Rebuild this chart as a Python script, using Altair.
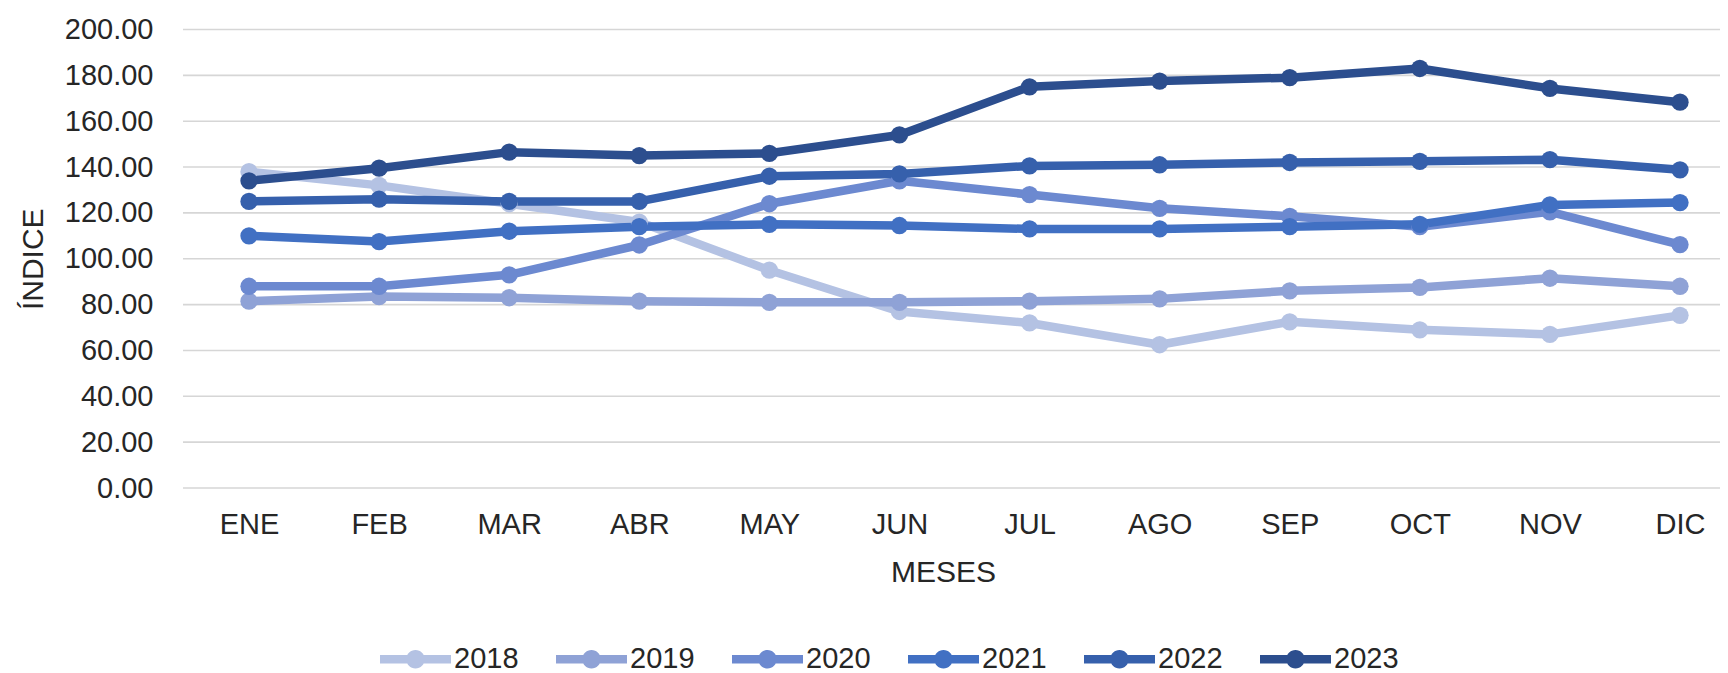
import altair as alt
import pandas as pd

months = ["ENE", "FEB", "MAR", "ABR", "MAY", "JUN", "JUL", "AGO", "SEP", "OCT", "NOV", "DIC"]
years = ["2018", "2019", "2020", "2021", "2022", "2023"]
y_ticks = [0, 20, 40, 60, 80, 100, 120, 140, 160, 180, 200]

v2018 = [138.0, 132.0, 124.0, 116.0, 95.0, 77.0, 72.0, 62.5, 72.5, 69.0, 67.0, 75.3]
v2019 = [81.5, 83.5, 83.0, 81.5, 81.0, 81.0, 81.5, 82.5, 86.0, 87.5, 91.5, 88.0]
v2020 = [88.0, 88.0, 93.0, 106.0, 124.0, 134.0, 128.0, 122.0, 118.5, 114.0, 120.5, 106.2]
v2021 = [110.0, 107.5, 112.0, 114.0, 115.0, 114.5, 113.0, 113.0, 114.0, 115.0, 123.5, 124.5]
v2022 = [125.0, 126.0, 125.0, 125.0, 136.0, 137.0, 140.5, 141.0, 142.0, 142.5, 143.2, 138.8]
v2023 = [134.0, 139.5, 146.5, 145.0, 146.0, 154.0, 175.0, 177.5, 179.0, 183.0, 174.3, 168.3]

series = [v2018, v2019, v2020, v2021, v2022, v2023]
colors = ["#B4C2E3", "#8FA2D6", "#6C89D0", "#4170C3", "#3660AC", "#2C4E8E"]

rows = []
for y, vals in zip(years, series):
    for m, v in zip(months, vals):
        rows.append({"mes": m, "anio": y, "indice": v})
df = pd.DataFrame(rows)
grid_df = pd.DataFrame({"indice": y_ticks})

font = "Liberation Sans"
txt = "#262626"
W = 1537

legend_path = ("M -1 -0.12 L 1 -0.12 L 1 0.12 L -1 0.12 Z "
               "M 0.26 0 A 0.26 0.26 0 1 1 -0.26 0 A 0.26 0.26 0 1 1 0.26 0 Z")

y_scale = alt.Scale(domain=[0, 200], nice=False, zero=True)

x_enc = alt.X("mes:N", sort=months, title="MESES",
              scale=alt.Scale(type="point", range=[66, 1497], padding=0),
              axis=alt.Axis(labelAngle=0, ticks=False, tickSize=0, domain=False, grid=False,
                            labelFontSize=29, labelFont=font, labelColor=txt, labelPadding=22,
                            titleFontSize=30, titleFont=font, titleColor=txt,
                            titleFontWeight="normal", titlePadding=18, titleX=760))
y_enc = alt.Y("indice:Q", title="ÍNDICE", scale=y_scale,
              axis=alt.Axis(values=y_ticks, format=".2f", ticks=False, tickSize=0,
                            domain=False, grid=False,
                            labelFontSize=29, labelFont=font, labelColor=txt, labelPadding=30,
                            titleFontSize=30, titleFont=font, titleColor=txt,
                            titleFontWeight="normal", titlePadding=16))
color_enc = alt.Color("anio:N", sort=years,
                      scale=alt.Scale(domain=years, range=colors),
                      legend=alt.Legend(title=None, orient="none", direction="horizontal",
                                        legendX=197, legendY=594,
                                        symbolType=legend_path, symbolSize=5041,
                                        symbolStrokeWidth=0, symbolOpacity=1,
                                        labelFontSize=29, labelFont=font, labelColor=txt,
                                        labelOffset=3, columnPadding=37, columns=6))

grid = alt.Chart(grid_df).mark_rule(color="#d6d6d6", strokeWidth=1.6).encode(
    y=alt.Y("indice:Q", scale=y_scale),
    x=alt.value(0), x2=alt.value(W),
)

base = alt.Chart(df).encode(x=x_enc, y=y_enc, color=color_enc)
lines = base.mark_line(strokeWidth=8.5, strokeJoin="round", strokeCap="round")
points = base.mark_point(filled=True, size=300, opacity=1, shape="circle")

chart = alt.layer(grid, lines, points).properties(
    width=W, height=458.5,
    autosize=alt.AutoSizeParams(type="none"),
    padding={"left": 175, "top": 21.5, "right": 0, "bottom": 185},
).configure_view(stroke=None)

chart.save("out.html", embed_options={"renderer": "svg", "actions": False})
